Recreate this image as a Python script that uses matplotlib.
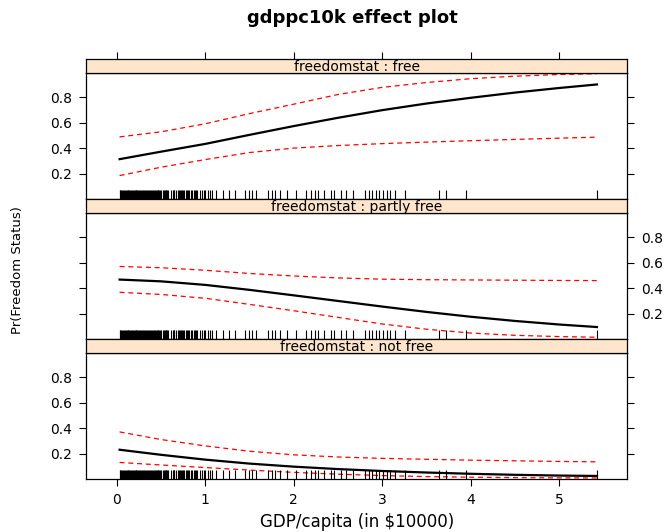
import numpy as np
import matplotlib
matplotlib.use("Agg")
import matplotlib.pyplot as plt

plt.rcParams.update({'font.family': ['DejaVu Sans']})

# GDP per capita grid (in $10000) where the fitted curves are evaluated
gdp = [0.03, 0.5, 1.0, 1.5, 2.0, 2.5, 3.0, 3.5, 4.0, 4.5, 5.0, 5.43]

# freedomstat : free
free_fit = [0.313, 0.372, 0.433, 0.504, 0.573, 0.638, 0.698, 0.750, 0.795, 0.836, 0.872, 0.900]
free_hi = [0.488, 0.528, 0.591, 0.671, 0.745, 0.821, 0.877, 0.915, 0.945, 0.965, 0.978, 0.985]
free_lo = [0.184, 0.250, 0.310, 0.365, 0.400, 0.420, 0.435, 0.447, 0.458, 0.468, 0.478, 0.486]

# freedomstat : partly free
partly_fit = [0.467, 0.453, 0.425, 0.386, 0.343, 0.299, 0.255, 0.213, 0.175, 0.142, 0.114, 0.094]
partly_hi = [0.570, 0.560, 0.540, 0.515, 0.495, 0.480, 0.470, 0.466, 0.464, 0.462, 0.460, 0.459]
partly_lo = [0.367, 0.350, 0.320, 0.272, 0.222, 0.170, 0.118, 0.077, 0.047, 0.029, 0.019, 0.014]

# freedomstat : not free
notfree_fit = [0.230, 0.190, 0.152, 0.121, 0.097, 0.078, 0.063, 0.051, 0.041, 0.033, 0.027, 0.024]
notfree_hi = [0.370, 0.310, 0.260, 0.218, 0.190, 0.173, 0.162, 0.155, 0.148, 0.143, 0.138, 0.135]
notfree_lo = [0.130, 0.110, 0.090, 0.070, 0.052, 0.038, 0.027, 0.019, 0.014, 0.011, 0.009, 0.008]

# observed gdppc10k values (rug)
rug = [0.03, 0.04, 0.05, 0.06, 0.07, 0.08, 0.09, 0.10, 0.11, 0.12, 0.13, 0.14,
       0.15, 0.16, 0.17, 0.18, 0.19, 0.20, 0.21, 0.22, 0.23, 0.24, 0.25, 0.26,
       0.27, 0.28, 0.30, 0.31, 0.32, 0.33, 0.34, 0.35, 0.36, 0.37, 0.39, 0.40,
       0.41, 0.42, 0.43, 0.44, 0.45, 0.46, 0.47, 0.48, 0.49, 0.50, 0.52, 0.53,
       0.54, 0.55, 0.56, 0.57, 0.58, 0.61, 0.63, 0.64, 0.65, 0.67, 0.69, 0.70,
       0.71, 0.72, 0.74, 0.75, 0.76, 0.78, 0.79, 0.80, 0.82, 0.84, 0.85, 0.87,
       0.88, 0.90, 0.91, 0.94, 0.96, 0.98, 1.00, 1.03, 1.05, 1.08, 1.12, 1.20,
       1.27, 1.33, 1.45, 1.49, 1.53, 1.57, 1.71, 1.75, 1.79, 1.85, 1.92, 2.02,
       2.14, 2.20, 2.24, 2.28, 2.34, 2.42, 2.46, 2.54, 2.59, 2.67, 2.81, 2.85,
       2.89, 2.93, 2.97, 3.01, 3.05, 3.09, 3.15, 3.26, 3.64, 3.72, 3.95, 5.43]

panels = [
    ("freedomstat : free", free_fit, free_hi, free_lo),
    ("freedomstat : partly free", partly_fit, partly_hi, partly_lo),
    ("freedomstat : not free", notfree_fit, notfree_hi, notfree_lo),
]

W, H = 670, 532
fig = plt.figure(figsize=(W / 100, H / 100), dpi=100)

left, right = 86, 627
plot_tops = [73, 213, 353]
plot_h = 126
strip_h = 14
xlim = (-0.35, 5.77)
ylim = (0.0, 0.99)

def fig_box(x0, y0, w, h):
    return [x0 / W, 1 - (y0 + h) / H, w / W, h / H]

for i, (name, fit, hi, lo) in enumerate(panels):
    top = plot_tops[i]
    ax = fig.add_axes(fig_box(left, top, right - left, plot_h))
    ax.plot(gdp, fit, color='black', lw=1.6)
    ax.plot(gdp, hi, color='red', lw=0.9, ls=(0, (4, 3)))
    ax.plot(gdp, lo, color='red', lw=0.9, ls=(0, (4, 3)))
    ax.vlines(rug, 0, 0.075, color='black', lw=0.8,
              transform=ax.get_xaxis_transform())
    ax.set_xlim(*xlim)
    ax.set_ylim(*ylim)
    ax.set_yticks([0.2, 0.4, 0.6, 0.8])
    ax.set_yticklabels(['0.2', '0.4', '0.6', '0.8'])
    ax.set_xticks([0, 1, 2, 3, 4, 5])
    labels_right = (i == 1)
    ax.tick_params(axis='y', left=True, right=True,
                   labelleft=not labels_right, labelright=labels_right,
                   direction='out', length=5, width=0.8, labelsize=10, pad=5)
    bottom = (i == 2)
    ax.tick_params(axis='x', bottom=bottom, labelbottom=bottom, top=False,
                   direction='out', length=5, width=0.8, labelsize=10, pad=5)
    for s in ax.spines.values():
        s.set_linewidth(0.9)

    # strip above the panel
    sax = fig.add_axes(fig_box(left, top - strip_h, right - left, strip_h))
    sax.set_facecolor('#FFE5CC')
    sax.set_xlim(*xlim)
    sax.set_yticks([])
    sax.set_xticks([0, 1, 2, 3, 4, 5])
    sax.tick_params(axis='x', bottom=False, labelbottom=False,
                    top=(i == 0), labeltop=False,
                    direction='out', length=5, width=0.8)
    for s in sax.spines.values():
        s.set_linewidth(0.9)
    sax.text(0.5, 0.45, name, transform=sax.transAxes, ha='center',
             va='center', fontsize=10)

fig.text(352 / W, 1 - 18 / H, "gdppc10k effect plot", ha='center',
         va='center', fontsize=13, fontweight='bold')
fig.text(357 / W, 1 - 522 / H, "GDP/capita (in $10000)", ha='center',
         va='center', fontsize=12)
fig.text(18 / W, 1 - 270 / H, "Pr(Freedom Status)", ha='center',
         va='center', rotation=90, fontsize=9.5)

fig.savefig("out.png", dpi=100)
